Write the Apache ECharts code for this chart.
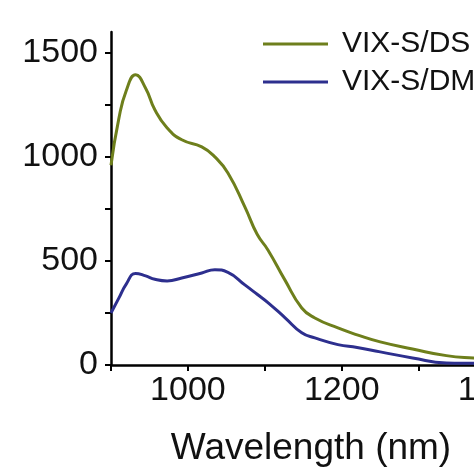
<!DOCTYPE html>
<html>
<head>
<meta charset="utf-8">
<script src="https://cdn.jsdelivr.net/npm/echarts@6/dist/echarts.min.js"></script>
<style>html,body{margin:0;padding:0;background:#fff;}#c{width:474px;height:474px;}</style>
</head>
<body>
<div id="c"></div>
<script>
const wavelengths = [900, 910, 920, 932, 945, 957, 973, 992, 1018, 1035, 1052, 1074, 1090, 1104, 1126, 1148, 1165, 1195, 1220, 1250, 1292, 1336, 1371, 1400, 1420];
const dsValues = [960, 1180, 1320, 1394, 1330, 1226, 1139, 1082, 1048, 1000, 923, 760, 628, 553, 409, 274, 226, 178, 145, 111, 77, 45, 34, 30, 28];
const dmValues = [250, 320, 390, 440, 428, 412, 404, 418, 442, 458, 445, 385, 340, 300, 228, 155, 130, 98, 84, 63, 34, 10, 8, 6, 5];
const seriesNames = ['VIX-S/DS', 'VIX-S/DM'];
const xTicks = [900, 1000, 1100, 1200, 1300, 1400];
const xLabels = [1000, 1200, 1400];
const yTicks = [0, 250, 500, 750, 1000, 1250, 1500];
const yLabels = [0, 500, 1000, 1500];

const font = 'Liberation Sans, Arial, sans-serif';
const chart = echarts.init(document.getElementById('c'));
chart.setOption({
  animation: false,
  backgroundColor: '#fff',
  grid: { left: 111, top: 32, bottom: 109, right: -37, containLabel: false, outerBoundsMode: 'none' },
  legend: {
    orient: 'vertical', left: 263, top: 29, padding: 0,
    icon: 'rect', itemWidth: 65, itemHeight: 3, itemGap: 8,
    textStyle: { fontFamily: font, fontSize: 30, color: '#111', padding: [0, 0, 0, 9] },
    data: seriesNames
  },
  xAxis: {
    type: 'value', min: 900, max: 1420,
    name: 'Wavelength (nm)', nameLocation: 'middle', nameGap: 65,
    nameTextStyle: { fontFamily: font, fontSize: 37, color: '#111' },
    axisLine: { show: true, lineStyle: { color: '#000', width: 2.5 } },
    axisTick: { show: true, length: 6, lineStyle: { color: '#000', width: 2 }, customValues: xTicks },
    axisLabel: { fontFamily: font, fontSize: 34, color: '#111', margin: 9, customValues: xLabels, formatter: v => String(v) },
    splitLine: { show: false }
  },
  yAxis: {
    type: 'value', min: 0, max: 1600,
    axisLine: { show: true, lineStyle: { color: '#000', width: 2.5 } },
    axisTick: { show: true, length: 6, lineStyle: { color: '#000', width: 2 }, customValues: yTicks },
    axisLabel: { fontFamily: font, fontSize: 34, color: '#111', margin: 13, customValues: yLabels, formatter: v => String(v) },
    splitLine: { show: false }
  },
  series: [
    {
      name: seriesNames[0], type: 'line', smooth: true, symbol: 'none',
      lineStyle: { color: '#6e7f1c', width: 3 }, itemStyle: { color: '#6e7f1c' },
      data: wavelengths.map((w, i) => [w, dsValues[i]])
    },
    {
      name: seriesNames[1], type: 'line', smooth: true, symbol: 'none',
      lineStyle: { color: '#2d2f8e', width: 3 }, itemStyle: { color: '#2d2f8e' },
      data: wavelengths.map((w, i) => [w, dmValues[i]])
    }
  ]
});
</script>
</body>
</html>
